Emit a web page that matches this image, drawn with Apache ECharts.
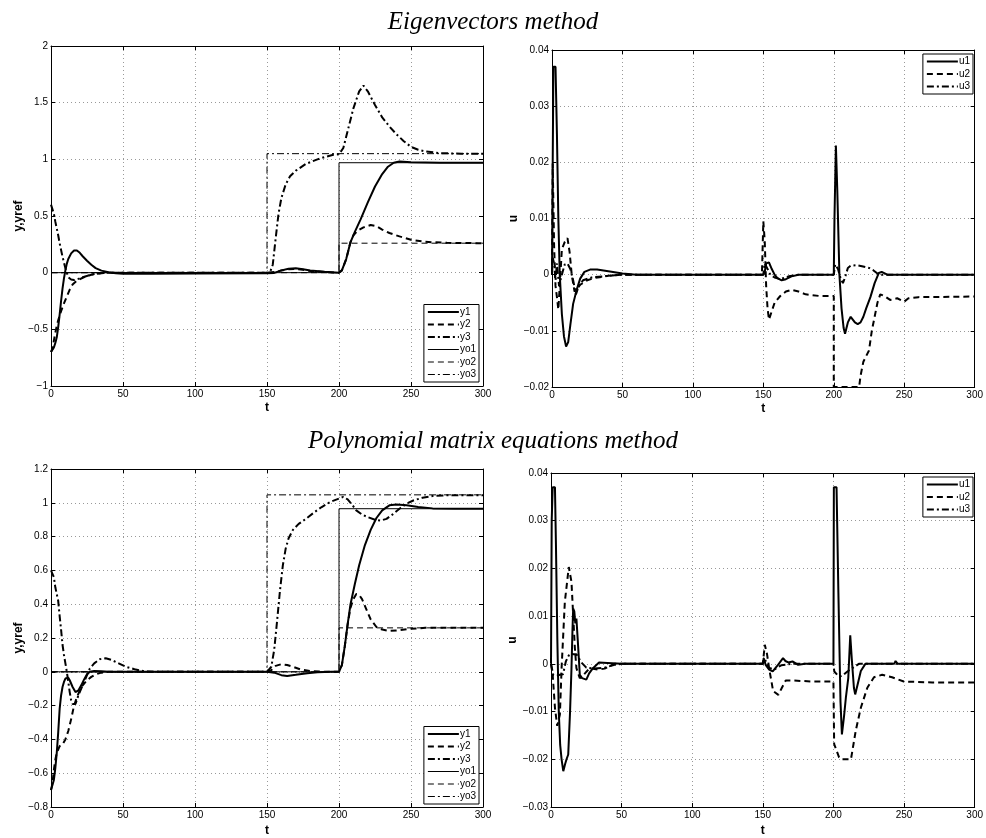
<!DOCTYPE html>
<html><head><meta charset="utf-8">
<script src="https://cdn.jsdelivr.net/npm/echarts@6/dist/echarts.min.js"></script>
<style>html,body{margin:0;padding:0;background:#fff}#c{width:986px;height:838px}</style>
</head><body><div id="c"></div>
<script>
// ---------- DATA ----------
const xTicks = [0, 50, 100, 150, 200, 250, 300];
const titles = ['Eigenvectors method', 'Polynomial matrix equations method'];
const legendY = ['y1', 'y2', 'y3', 'yo1', 'yo2', 'yo3'];
const legendU = ['u1', 'u2', 'u3'];

// Eigenvectors method: outputs
const ev_y1 = [[0,-0.70],[1,-0.69],[2,-0.66],[3,-0.62],[4,-0.57],[5,-0.48],[6,-0.37],[7,-0.25],[8,-0.14],[9,-0.05],[10,0.02],[11,0.08],[12,0.12],[14,0.17],[16,0.195],[18,0.195],[20,0.175],[22,0.145],[25,0.105],[28,0.07],[31,0.04],[35,0.018],[40,0.004],[45,-0.005],[50,-0.01],[70,-0.01],[100,-0.008],[150,-0.006],[155,-0.002],[160,0.02],[165,0.035],[170,0.038],[175,0.03],[180,0.02],[190,0.008],[200,0.0],[202,0.02],[205,0.12],[208,0.27],[211,0.36],[215,0.47],[220,0.62],[225,0.76],[230,0.87],[234,0.935],[238,0.97],[242,0.98],[250,0.975],[270,0.97],[300,0.97]];
const ev_y2 = [[0,-0.70],[1,-0.67],[2,-0.6],[3,-0.53],[4,-0.47],[5,-0.42],[7,-0.34],[9,-0.27],[11,-0.21],[13,-0.15],[15,-0.105],[18,-0.07],[22,-0.045],[26,-0.025],[30,-0.012],[35,-0.004],[40,0],[100,0],[150,0],[155,0.005],[160,0.02],[165,0.03],[170,0.032],[175,0.025],[180,0.015],[190,0.005],[200,0],[202,0.02],[205,0.12],[208,0.27],[210,0.33],[213,0.37],[217,0.4],[222,0.42],[226,0.41],[230,0.38],[235,0.35],[242,0.32],[250,0.29],[260,0.272],[275,0.263],[300,0.26]];
const ev_y3 = [[0,0.6],[1,0.59],[2,0.52],[3,0.45],[4,0.39],[5,0.33],[6,0.26],[7,0.2],[8,0.14],[9,0.09],[10,0.04],[11,0.0],[12,-0.04],[14,-0.06],[16,-0.065],[19,-0.055],[22,-0.04],[26,-0.025],[30,-0.012],[35,-0.005],[40,0],[150,0],[152,0.0],[154,0.07],[156,0.3],[158,0.52],[160,0.66],[163,0.78],[166,0.85],[170,0.9],[177,0.96],[185,1.0],[190,1.02],[196,1.04],[200,1.045],[203,1.1],[206,1.25],[210,1.45],[214,1.6],[217,1.65],[220,1.6],[225,1.48],[230,1.37],[235,1.29],[240,1.22],[245,1.16],[250,1.11],[255,1.085],[260,1.07],[270,1.055],[285,1.05],[300,1.05]];
const ev_yo1 = [[0,0],[200,0],[200,0.97],[300,0.97]];
const ev_yo2 = [[0,0],[200,0],[200,0.26],[300,0.26]];
const ev_yo3 = [[0,0],[150,0],[150,1.05],[300,1.05]];

// Eigenvectors method: controls
const ev_u1 = [[0,0],[0.5,0.02],[1,0.037],[2.5,0.037],[3.5,0.025],[4.5,0.01],[5.5,0.0],[7,-0.007],[8.5,-0.011],[10,-0.0128],[11.5,-0.012],[13,-0.009],[15,-0.0052],[17.4,-0.0028],[20,-0.0007],[23,0.0005],[27,0.0009],[32,0.0009],[40,0.0006],[50,0.0002],[60,0],[150,0],[151,0.0005],[152,0.002],[154,0.0022],[156,0.001],[158,0.0],[160,-0.0006],[163,-0.001],[166,-0.0008],[170,-0.0003],[175,0],[200,0],[200.5,0.01],[201.5,0.023],[202.5,0.015],[204,0.0],[205.5,-0.006],[207,-0.0095],[208,-0.0105],[210,-0.0085],[212,-0.0075],[213,-0.0072],[215,-0.0085],[217,-0.0088],[219,-0.0085],[221,-0.0075],[223,-0.006],[226,-0.004],[229,-0.0015],[232,0.0003],[234,0.0005],[238,0.0],[300,0]];
const ev_u2 = [[0,0],[0.5,0.0198],[1.5,0.005],[2.5,-0.002],[3.5,-0.004],[4.5,-0.0062],[5.5,-0.002],[7,0.0045],[9,0.0058],[11,0.0065],[12.5,0.004],[14,0.0],[16,-0.003],[18,-0.0025],[20,-0.0018],[25,-0.001],[30,-0.0006],[40,-0.0002],[50,0],[149,0],[150,0.0095],[151,0.006],[152,-0.002],[153,-0.006],[154,-0.008],[156,-0.0065],[158,-0.005],[162,-0.0038],[166,-0.003],[170,-0.0027],[175,-0.003],[180,-0.0035],[190,-0.0038],[200,-0.0038],[200,-0.02],[218,-0.02],[219,-0.018],[221,-0.0155],[223,-0.0145],[225,-0.0135],[227,-0.01],[229,-0.0075],[231,-0.005],[233,-0.0035],[236,-0.0038],[240,-0.0045],[245,-0.0042],[250,-0.0048],[253,-0.0042],[260,-0.004],[300,-0.0039]];
const ev_u3 = [[0,0],[0.5,0.003],[1.5,0.002],[2.5,-0.001],[3.5,0.002],[5,-0.002],[7,0.0],[9,0.0018],[11,0.002],[13,0.001],[15,-0.001],[17,-0.0035],[19,-0.002],[22,-0.001],[28,-0.0005],[40,-0.0002],[50,0],[150,0],[151,0.002],[153,0.001],[155,0.0],[158,-0.0005],[162,-0.0008],[168,-0.0003],[175,0],[200,0],[201,0.0018],[203,0.001],[205,-0.0008],[206.5,-0.0015],[208,-0.0005],[210,0.0012],[212,0.0016],[216,0.0017],[220,0.0015],[225,0.0012],[228,0.0008],[231,0.0002],[234,0],[300,0]];

// Polynomial matrix equations method: outputs
const pm_y1 = [[0,-0.70],[1,-0.69],[2,-0.64],[3,-0.57],[4,-0.48],[5,-0.36],[6,-0.22],[7,-0.14],[8,-0.09],[9,-0.06],[10,-0.04],[11,-0.03],[12,-0.035],[13,-0.05],[15,-0.09],[17,-0.12],[19,-0.11],[21,-0.08],[23,-0.045],[25,-0.015],[27,0.0],[30,0.005],[35,0.003],[40,0],[150,0],[155,-0.005],[160,-0.02],[164,-0.025],[170,-0.018],[178,-0.008],[185,-0.003],[195,0],[200,0],[202,0.04],[204,0.15],[206,0.28],[208,0.4],[211,0.52],[214,0.63],[218,0.75],[222,0.84],[226,0.91],[230,0.955],[235,0.985],[240,0.99],[247,0.985],[255,0.975],[265,0.967],[280,0.965],[300,0.965]];
const pm_y2 = [[0,-0.70],[1,-0.66],[2,-0.58],[3,-0.52],[4,-0.48],[5,-0.46],[6,-0.44],[8,-0.43],[10,-0.40],[12,-0.35],[14,-0.28],[16,-0.2],[18,-0.15],[20,-0.11],[22,-0.08],[25,-0.05],[28,-0.03],[31,-0.015],[35,-0.005],[40,0],[150,0],[153,0.01],[156,0.035],[160,0.045],[164,0.04],[168,0.03],[173,0.015],[180,0.005],[190,0],[200,0],[202,0.04],[204,0.15],[206,0.28],[208,0.38],[210,0.43],[212,0.46],[214,0.455],[216,0.43],[219,0.37],[222,0.31],[226,0.265],[230,0.25],[235,0.242],[240,0.245],[250,0.255],[260,0.26],[300,0.26]];
const pm_y3 = [[0,0.6],[1,0.6],[2,0.56],[3,0.5],[4,0.46],[5,0.42],[6,0.33],[7,0.25],[8,0.16],[9,0.1],[10,0.05],[11,0.0],[12,-0.06],[13,-0.12],[14,-0.17],[15,-0.19],[17,-0.19],[19,-0.14],[21,-0.1],[23,-0.06],[25,-0.02],[27,0.02],[30,0.05],[34,0.075],[38,0.08],[42,0.07],[47,0.05],[52,0.03],[58,0.015],[65,0.003],[70,0],[150,0],[151,0.005],[153,0.03],[155,0.13],[157,0.3],[159,0.48],[161,0.63],[163,0.73],[165,0.79],[168,0.84],[172,0.875],[177,0.905],[183,0.945],[188,0.975],[194,1.005],[200,1.025],[203,1.035],[206,1.02],[209,0.99],[212,0.955],[216,0.93],[220,0.915],[225,0.9],[229,0.895],[233,0.905],[237,0.93],[242,0.965],[247,0.995],[252,1.015],[258,1.03],[265,1.04],[275,1.045],[300,1.045]];
const pm_yo1 = [[0,0],[200,0],[200,0.965],[300,0.965]];
const pm_yo2 = [[0,0],[200,0],[200,0.26],[300,0.26]];
const pm_yo3 = [[0,0],[150,0],[150,1.047],[300,1.047]];

// Polynomial matrix equations method: controls
const pm_u1 = [[0,0],[0.5,0.03],[1.2,0.037],[2.8,0.037],[3.5,0.025],[4.5,0.005],[5.5,-0.01],[6.5,-0.017],[7.5,-0.02],[8.7,-0.0225],[10,-0.021],[11,-0.02],[12.2,-0.019],[13.5,-0.01],[14.5,-0.001],[15.2,0.007],[15.7,0.0116],[16.5,0.011],[17.2,0.0085],[18,0.0095],[19,0.0047],[20.4,-0.0023],[22,-0.003],[25,-0.0033],[27,-0.002],[29.7,-0.0009],[34,0.0003],[40,0.0002],[50,0],[150,0],[150.6,0.0012],[152,-0.0002],[154.5,-0.0012],[157,-0.0016],[160,-0.0005],[164.3,0.0012],[166,0.0006],[168,0.0003],[171,0.0005],[175,-0.0002],[180,0],[200,0],[200.3,0.037],[202.2,0.037],[203.5,0.015],[205,-0.008],[206,-0.0148],[207.5,-0.011],[208.8,-0.0071],[210.5,-0.003],[211.9,0.006],[213,0.001],[214.5,-0.005],[215.4,-0.0064],[217,-0.0045],[219.4,-0.0015],[222.6,0.0],[243,0],[244,0.0006],[245.5,0],[300,0]];
const pm_u2 = [[0,0],[1.2,-0.0023],[2.8,-0.0092],[4.4,-0.013],[6.3,-0.0106],[7.5,-0.0009],[9.8,0.013],[12.6,0.0203],[14.5,0.0172],[15.7,0.0102],[16.9,0.0033],[18,-0.0009],[20.4,-0.003],[24,-0.002],[27.4,-0.0009],[33,-0.0012],[38,-0.001],[45,0],[150,0],[151.4,0.004],[153,0.002],[154.5,-0.001],[157.3,-0.0057],[161,-0.0065],[163.5,-0.005],[166.2,-0.0035],[172,-0.0035],[185,-0.0037],[200,-0.0037],[200.5,-0.0168],[204,-0.0196],[205.5,-0.02],[212.4,-0.02],[215.8,-0.014],[219.4,-0.0092],[224,-0.005],[228.7,-0.0028],[234.5,-0.0023],[241.5,-0.0028],[249.8,-0.0037],[270,-0.0039],[300,-0.0039]];
const pm_u3 = [[0,0],[1.6,-0.0023],[4,-0.0025],[6.3,-0.0023],[8.5,-0.0022],[10.5,0.0005],[13.3,0.0022],[16,0.002],[18,0.002],[21.5,0.0003],[25,-0.0008],[30,-0.001],[38,-0.0008],[45,-0.0002],[50,0],[150,0],[151.5,0.001],[154,-0.0008],[158,-0.0012],[163,-0.0003],[170,0],[200,0],[200.6,-0.0016],[203,-0.0024],[205,-0.0026],[207.5,-0.0022],[209.9,-0.0016],[213.4,-0.0009],[218,0],[300,0]];

// ---------- CHART ----------
const FONT = '"Liberation Sans", Arial, sans-serif';
const grids = [
  {left: 51, top: 46, width: 432, height: 340},
  {left: 552, top: 50, width: 426, height: 337},
  {left: 51, top: 469, width: 432, height: 340},
  {left: 551, top: 473, width: 427, height: 337}
];
const yRanges = [
  {min: -1, max: 2, interval: 0.5, name: 'y,yref'},
  {min: -0.02, max: 0.04, interval: 0.01, name: 'u'},
  {min: -0.8, max: 1.2, interval: 0.2, name: 'y,yref'},
  {min: -0.03, max: 0.04, interval: 0.01, name: 'u'}
];
const fmt = v => String(Math.round(v * 1000) / 1000).replace('-', '\u2212');

const xAxes = [], yAxes = [];
grids.forEach((g, i) => {
  xAxes.push({
    type: 'value', gridIndex: i, min: xTicks[0], max: xTicks[xTicks.length - 1], interval: xTicks[1] - xTicks[0],
    name: 't', nameLocation: 'middle', nameGap: i < 2 ? 16 : 18,
    nameTextStyle: {fontFamily: FONT, fontWeight: 'bold', fontSize: 12, color: '#000'},
    axisLine: {show: true, onZero: false, lineStyle: {color: '#000', width: 1}},
    axisTick: {show: true, inside: true, length: 4, lineStyle: {color: '#000'}},
    axisLabel: {fontFamily: FONT, fontSize: 10, color: '#000', margin: 3, formatter: fmt},
    splitLine: {show: true, lineStyle: {color: '#999', type: [1, 3], width: 1}}
  });
  const r = yRanges[i];
  yAxes.push({
    type: 'value', gridIndex: i, min: r.min, max: r.max, interval: r.interval,
    name: r.name, nameLocation: 'middle', nameGap: i % 2 === 0 ? 25 : 32, nameRotate: 90,
    nameTextStyle: {fontFamily: FONT, fontWeight: 'bold', fontSize: 12, color: '#000'},
    axisLine: {show: true, onZero: false, lineStyle: {color: '#000', width: 1}},
    axisTick: {show: true, inside: true, length: 4, lineStyle: {color: '#000'}},
    axisLabel: {fontFamily: FONT, fontSize: 10, color: '#000', margin: 3, formatter: fmt},
    splitLine: {show: true, lineStyle: {color: '#999', type: [1, 3], width: 1}}
  });
});
// mirror axes (top and right) for the box ticks
grids.forEach((g, i) => {
  xAxes.push({
    type: 'value', gridIndex: i, position: 'top', min: xTicks[0], max: xTicks[xTicks.length - 1], interval: xTicks[1] - xTicks[0],
    axisLine: {show: true, onZero: false, lineStyle: {color: '#000', width: 1}},
    axisTick: {show: true, inside: true, length: 4, lineStyle: {color: '#000'}},
    axisLabel: {show: false}, splitLine: {show: false}
  });
  const r = yRanges[i];
  yAxes.push({
    type: 'value', gridIndex: i, position: 'right', min: r.min, max: r.max, interval: r.interval,
    axisLine: {show: true, onZero: false, lineStyle: {color: '#000', width: 1}},
    axisTick: {show: true, inside: true, length: 4, lineStyle: {color: '#000'}},
    axisLabel: {show: false}, splitLine: {show: false}
  });
});

const DASH = [6, 4], DASHDOT = [7, 3, 2, 3];
const thick = {solid: {width: 2, type: 'solid'}, dash: {width: 2, type: DASH}, dashdot: {width: 2, type: DASHDOT}};
const thin = {solid: {width: 1, type: 'solid'}, dash: {width: 1, type: DASH}, dashdot: {width: 1, type: DASHDOT}};

function mk(name, data, gi, ls, z) {
  return {
    type: 'line', name, data, xAxisIndex: gi, yAxisIndex: gi, showSymbol: false, symbol: 'none',
    animation: false, clip: true, z: z || 2,
    lineStyle: Object.assign({color: '#000'}, ls), itemStyle: {color: '#000'}
  };
}
const series = [
  mk('yo1', ev_yo1, 0, thin.solid, 1), mk('yo2', ev_yo2, 0, thin.dash, 1), mk('yo3', ev_yo3, 0, thin.dashdot, 1),
  mk('y1', ev_y1, 0, thick.solid, 3), mk('y2', ev_y2, 0, thick.dash, 3), mk('y3', ev_y3, 0, thick.dashdot, 3),
  mk('u1', ev_u1, 1, thick.solid, 3), mk('u2', ev_u2, 1, thick.dash, 3), mk('u3', ev_u3, 1, thick.dashdot, 3),
  mk('yo1', pm_yo1, 2, thin.solid, 1), mk('yo2', pm_yo2, 2, thin.dash, 1), mk('yo3', pm_yo3, 2, thin.dashdot, 1),
  mk('y1', pm_y1, 2, thick.solid, 3), mk('y2', pm_y2, 2, thick.dash, 3), mk('y3', pm_y3, 2, thick.dashdot, 3),
  mk('u1', pm_u1, 3, thick.solid, 3), mk('u2', pm_u2, 3, thick.dash, 3), mk('u3', pm_u3, 3, thick.dashdot, 3)
];

function legend(names, pos) {
  return Object.assign({
    data: names, orient: 'vertical', align: 'left', selectedMode: false,
    backgroundColor: '#fff', borderColor: '#000', borderWidth: 1, padding: [2, 3, 2, 3],
    itemWidth: 31, itemHeight: 10, itemGap: 1.5,
    itemStyle: {opacity: 0},
    lineStyle: {width: 'inherit', type: 'inherit', color: 'inherit'},
    textStyle: {fontFamily: FONT, fontSize: 10, color: '#000', lineHeight: 11, padding: [0, 0, 0, -4]}
  }, pos);
}

const titleStyle = {fontFamily: '"Liberation Serif", "Times New Roman", serif', fontStyle: 'italic', fontWeight: 'normal', fontSize: 25, color: '#000'};
const option = {
  backgroundColor: '#fff',
  animation: false,
  title: [
    {text: titles[0], left: 'center', top: 10, padding: 0, textStyle: titleStyle},
    {text: titles[1], left: 'center', top: 429, padding: 0, textStyle: titleStyle}
  ],
  grid: grids.map(g => Object.assign({show: false, containLabel: false}, g)),
  xAxis: xAxes,
  yAxis: yAxes,
  legend: [
    legend(legendY, {right: 507, bottom: 456}),
    legend(legendU, {right: 13, top: 54}),
    legend(legendY, {right: 507, bottom: 34}),
    legend(legendU, {right: 13, top: 477})
  ],
  series
};
const chart = echarts.init(document.getElementById('c'), null, {renderer: 'canvas'});
chart.setOption(option);
</script>
</body></html>
